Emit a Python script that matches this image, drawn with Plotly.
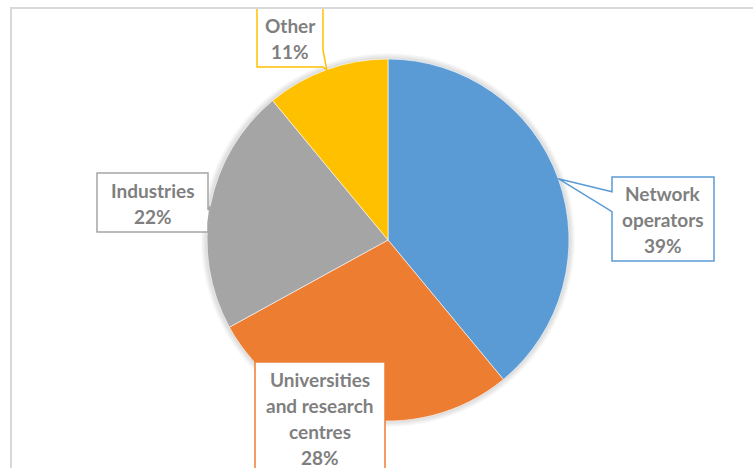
import math
import plotly.graph_objects as go

# Share of participants by organisation type
categories = ["Network operators", "Universities and research centres", "Industries", "Other"]
label_lines = [["Network", "operators"], ["Universities", "and research", "centres"], ["Industries"], ["Other"]]
values = [39, 28, 22, 11]
colors = ["#5B9BD5", "#ED7D31", "#A5A5A5", "#FFC000"]

W, H = 753, 468
CX, CY, R = 388, 240, 181          # pie centre and radius in pixels
TEXT = "#7F7F7F"
FONT = "Lato"


def px(x):
    return x / W


def py(y):
    return 1 - y / H


def domain(r):
    return dict(x=[px(CX - r), px(CX + r)], y=[py(CY + r), py(CY - r)])


fig = go.Figure()

# soft glow around the pie
for k in range(6, 0, -1):
    fig.add_trace(go.Pie(values=[1], marker=dict(colors=["rgba(0,0,0,0.022)"]),
                         domain=domain(R + k), textinfo="none", hoverinfo="skip",
                         showlegend=False, sort=False))

fig.add_trace(go.Pie(
    labels=categories, values=values, sort=False, direction="clockwise", rotation=0,
    marker=dict(colors=colors, line=dict(color="rgba(255,255,255,0.6)", width=1)),
    textinfo="none", domain=domain(R), showlegend=False,
))

# callout boxes: (left, top, right, bottom, side of the pointer)
boxes = [
    (612, 177, 714, 261, "left"),
    (255, 362, 385, 480, None),
    (97, 173, 208, 232, "right"),
    (257, 8, 323, 67, "right"),
]
line_gap = 26.3

total = sum(values)
cum = 0
shapes = []
annotations = []
for i, v in enumerate(values):
    mid = (cum + v / 2) / total * 2 * math.pi
    cum += v
    tipx = CX + R * math.sin(mid)
    tipy = CY - R * math.cos(mid)
    l, t, r, b, side = boxes[i]
    pts = [(l, t), (r, t)]
    if side == "right":
        if i == 3:
            pts += [(r, b - 17), (tipx, tipy), (r, b)]
        else:
            pts += [(r, tipy + 4), (tipx, tipy), (r, tipy + 17)]
        pts += [(r, b), (l, b)]
    elif side == "left":
        pts += [(r, b), (l, b), (l, tipy + 33), (tipx, tipy), (l, tipy + 13)]
    else:
        pts += [(r, b), (l, b)]
    path = "M " + " L ".join(f"{px(x):.5f},{py(y):.5f}" for x, y in pts) + " Z"
    shapes.append(dict(type="path", xref="paper", yref="paper", path=path,
                       fillcolor="white", line=dict(color=colors[i], width=1.5)))

    lines = label_lines[i] + [f"{v}%"]
    cx = (l + r) / 2
    first = {0: 193, 1: 379, 2: 190, 3: 25}[i]
    for j, txt in enumerate(lines):
        annotations.append(dict(text=txt, x=px(cx), y=py(first + j * line_gap),
                                xref="paper", yref="paper", showarrow=False,
                                xanchor="center", yanchor="middle",
                                font=dict(family=FONT, size=19, color=TEXT, weight="bold")))

# chart frame
shapes.append(dict(type="rect", xref="paper", yref="paper",
                   x0=px(11), x1=px(W + 20), y0=py(8), y1=py(H + 20),
                   line=dict(color="#D9D9D9", width=2), fillcolor="rgba(0,0,0,0)"))

fig.update_layout(
    width=W, height=H, margin=dict(l=0, r=0, t=0, b=0),
    paper_bgcolor="white", plot_bgcolor="white",
    shapes=shapes, annotations=annotations,
)

fig.write_html("out.html")
